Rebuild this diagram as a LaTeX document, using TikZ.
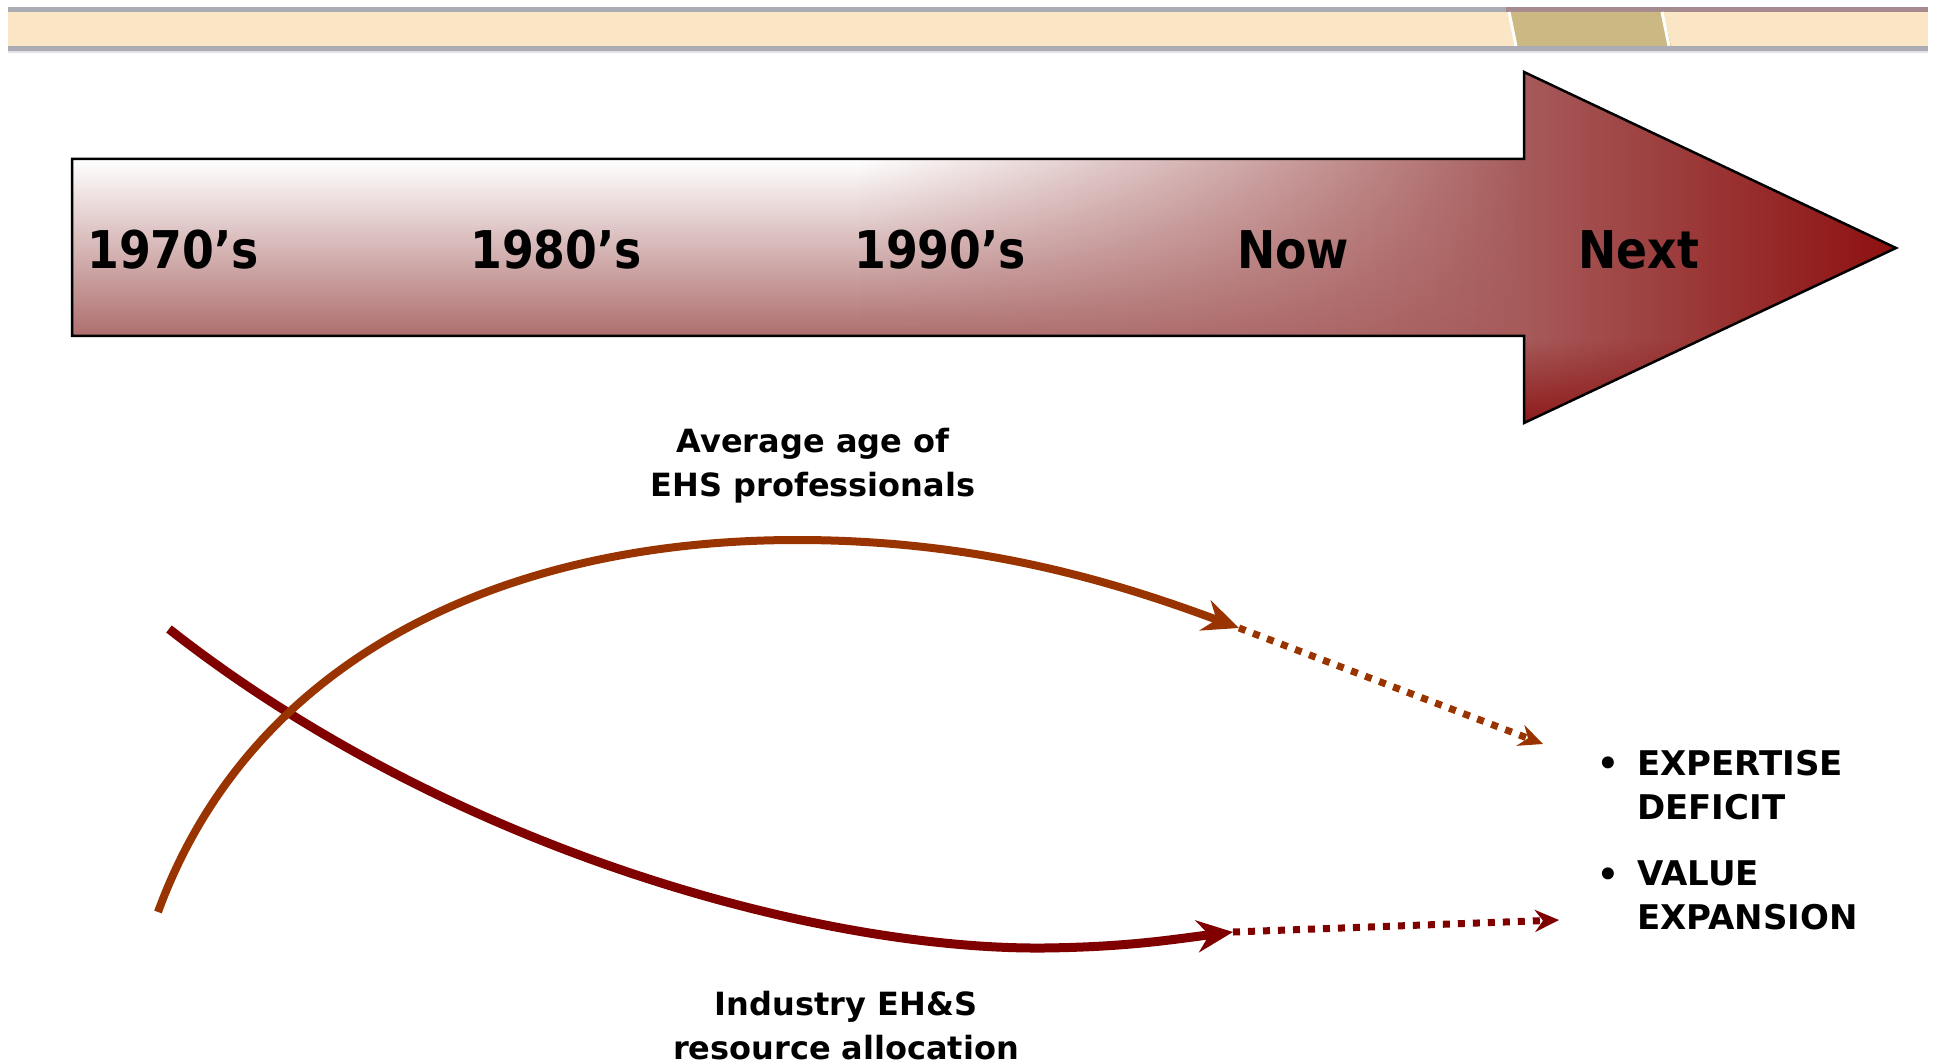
\documentclass[tikz,border=0pt]{standalone}
\usepackage{fontspec}
\setmainfont{DejaVu Sans}
\newfontfamily\yearfont[FakeStretch=0.88]{DejaVu Sans}
\usetikzlibrary{arrows.meta,fadings}
\definecolor{barbeige}{HTML}{FAE6C4}
\definecolor{bartan}{HTML}{CCB883}
\definecolor{bargray}{HTML}{ABABB3}
\definecolor{barlight}{HTML}{E2E2E4}
\definecolor{barmauve}{HTML}{A58A90}
\definecolor{shL}{HTML}{C8A3A3}
\definecolor{shR}{HTML}{A65A5A}
\definecolor{shM}{HTML}{DCC6C6}
\definecolor{shB}{HTML}{AE6E6E}
\definecolor{tipC}{HTML}{8E1010}
\definecolor{headDark}{HTML}{8E1A1A}
\definecolor{ageC}{HTML}{993300}
\definecolor{resC}{HTML}{800000}
\tikzfading[name=fadeRight, left color=transparent!0, middle color=transparent!45, right color=transparent!100]
\tikzfading[name=fadeDown, top color=transparent!100, bottom color=transparent!0]
\begin{document}
\begin{tikzpicture}[x=1pt,y=-1pt,
  yr/.style={font=\yearfont\bfseries\fontsize{52}{60}\selectfont, inner sep=0pt, text=black},
  lbl/.style={font=\bfseries\fontsize{32}{44}\selectfont, align=center, inner sep=0pt, text=black},
  bul/.style={font=\bfseries\fontsize{34}{44}\selectfont, align=left, inner sep=0pt, text=black},
  agecurve/.style={draw=ageC, line width=8pt, -{Stealth[length=36pt,width=32pt,inset=12pt]}},
  agedots/.style={draw=ageC, line width=7pt, dash pattern=on 7pt off 8pt, -{Stealth[length=24pt,width=22pt,inset=8pt]}},
  rescurve/.style={draw=resC, line width=9pt, -{Stealth[length=36pt,width=32pt,inset=12pt]}},
  resdots/.style={draw=resC, line width=7pt, dash pattern=on 7pt off 8pt, -{Stealth[length=24pt,width=22pt,inset=8pt]}},
  outline/.style={draw=black, line width=2.5pt, line join=miter},
  shaftshade/.style={top color=white, middle color=shM, bottom color=shB}
]
\useasboundingbox (0,0) rectangle (1937,1064);
\fill[white] (0,0) rectangle (1937,1064);

% top bar
\fill[bargray] (8,7) rectangle (1928,12);
\fill[barmauve] (1506,7) rectangle (1928,12);
\fill[barbeige] (8,12) rectangle (1928,46);
\fill[bartan] (1510,12) -- (1663,12) -- (1671,46) -- (1517,46) -- cycle;
\draw[white, line width=3pt] (1509,12) -- (1516,46);
\draw[white, line width=3pt] (1662,12) -- (1669,46);
\fill[bargray] (8,46) rectangle (1928,51);
\fill[barlight] (8,51) rectangle (1928,53);

% big timeline arrow
\begin{scope}
\clip (72,159) -- (1524,159) -- (1524,72) -- (1896,248) -- (1524,423) -- (1524,336) -- (72,336) -- cycle;
\shade[left color=shL, right color=shR] (72,72) rectangle (1524,423);
\shade[shaftshade] (72,159) rectangle (861,336);
\shade[shaftshade, path fading=fadeRight] (860,159) rectangle (1524,336);
\shade[left color=shR, right color=tipC] (1524,72) rectangle (1896,423);
\fill[headDark, path fading=fadeDown] (1524,340) rectangle (1760,423);
\end{scope}
\draw[outline] (72,159) -- (1524,159) -- (1524,72) -- (1896,248) -- (1524,423) -- (1524,336) -- (72,336) -- cycle;

\node[yr, anchor=base west] (t1970) at (87,269) {1970’s};
\node[yr, anchor=base west] (t1980) at (470,269) {1980’s};
\node[yr, anchor=base west] (t1990) at (854,269) {1990’s};
\node[yr, anchor=base west] (tnow) at (1237,269) {Now};
\node[yr, anchor=base west] (tnext) at (1578,269) {Next};

% curves
\coordinate (u0) at (158,912);
\coordinate (u1) at (1239,628);
\coordinate (u2) at (1543,744);
\coordinate (l0) at (169,629);
\coordinate (l1) at (1233,932);
\coordinate (l2) at (1559,920);

\draw[rescurve] (l0) .. controls (450,850) and (820,950) .. (1044,948)
  .. controls (1130,947) and (1175,939) .. (l1);
\draw[resdots] (l1) -- (l2);
\draw[agecurve] (u0) .. controls (250,660) and (500,540) .. (797,540)
  .. controls (975,540) and (1110,580) .. (u1);
\draw[agedots] (u1) -- (u2);

% labels
\node[lbl, anchor=north] (lblAge) at (813,428) {Average age of\\EHS professionals};
\node[lbl, anchor=north] (lblRes) at (846,991) {Industry EH\&S\\resource allocation};

% bullet list
\node[bul, anchor=base west] (b1) at (1597,775) {•};
\node[bul, anchor=north west] (exp) at (1637,750) {EXPERTISE\\DEFICIT};
\node[bul, anchor=base west] (b2) at (1597,886) {•};
\node[bul, anchor=north west] (val) at (1637,861) {VALUE\\EXPANSION};
\end{tikzpicture}
\end{document}
